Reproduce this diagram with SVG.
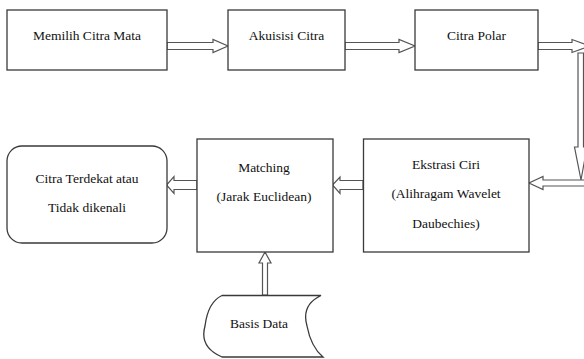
<svg xmlns="http://www.w3.org/2000/svg" width="584" height="359" viewBox="0 0 584 359">
<style>
.box{fill:#fff;stroke:#3a3a3a;stroke-width:1.3}
.arr{fill:#fff;stroke:#555;stroke-width:1.2;stroke-linejoin:miter}
text{font-family:"Liberation Serif","Times New Roman",serif;font-size:13.5px;fill:#111;text-anchor:middle}
</style>
<rect width="584" height="359" fill="#fff"/>
<g id="connectors">
<polygon class="arr" points="167,42.5 213,42.5 213,39.5 228,46 213,52.5 213,49.5 167,49.5"/>
<polygon class="arr" points="345,42.5 399,42.5 399,39.5 415,46 399,52.5 399,49.5 345,49.5"/>
<polygon class="arr" points="538,42.5 572,42.5 572,39.5 590,46 572,52.5 572,49.5 538,49.5"/>
<polygon class="arr" points="578,53 583.5,53 583.5,147 587,147 581,180 574.5,147 578,147"/>
<polygon class="arr" points="590,180 543,180 543,176.5 529,183 543,189.5 543,186 590,186"/>
<polygon class="arr" points="363,180.5 340,180.5 340,177 332.5,185 340,193.5 340,189.5 363,189.5"/>
<polygon class="arr" points="197,180.5 174,180.5 174,176.5 166.5,185 174,193.5 174,189.5 197,189.5"/>
<polygon class="arr" points="262.5,295 262.5,263 259,263 265,252 271,263 267.5,263 267.5,295"/>
</g>
<g id="n1"><rect class="box" x="7" y="10" width="160" height="60"/><text x="87" y="40">Memilih Citra Mata</text></g>
<g id="n2"><rect class="box" x="228" y="10" width="117" height="60"/><text x="286.5" y="40">Akuisisi  Citra</text></g>
<g id="n3"><rect class="box" x="415" y="10" width="123" height="60"/><text x="476.5" y="40">Citra Polar</text></g>
<g id="n4"><rect class="box" x="363.5" y="139" width="165.5" height="113"/><text x="446" y="169">Ekstrasi Ciri</text><text x="446" y="198">(Alihragam Wavelet</text><text x="446" y="228">Daubechies)</text></g>
<g id="n5"><rect class="box" x="197" y="139" width="136" height="113"/><text x="264" y="172">Matching</text><text x="264" y="201">(Jarak Euclidean)</text></g>
<g id="n6"><rect class="box" x="7" y="146" width="160" height="97" rx="15" ry="15"/><text x="87" y="183">Citra Terdekat atau</text><text x="87" y="212">Tidak dikenali</text></g>
<g id="n7"><path class="box" d="M222,295.5 L321,295.5 Q301,305 307,326 Q311,347 323,357 L222,357 Q199,347 205,326 Q208,302 222,295.5 Z"/><text x="259" y="328">Basis Data</text></g>
</svg>
